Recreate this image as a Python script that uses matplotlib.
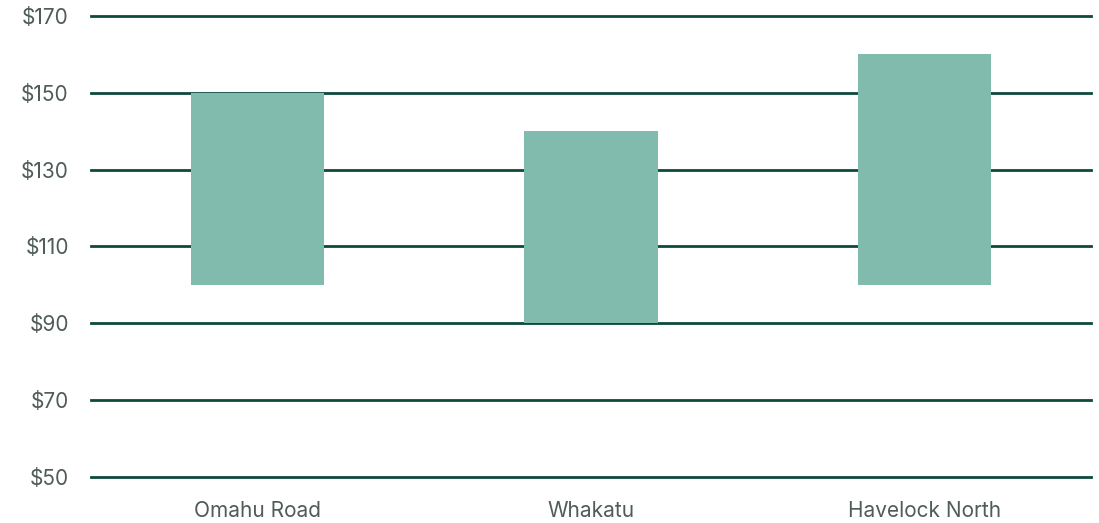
import matplotlib
matplotlib.use("Agg")
from matplotlib import pyplot as plt

categories = ["Omahu Road", "Whakatu", "Havelock North"]
low = [100, 90, 100]
high = [150, 140, 160]
ticks = [50, 70, 90, 110, 130, 150, 170]

plt.rcParams['font.family'] = ['Inter', 'DejaVu Sans']

fig = plt.figure(figsize=(10.99, 5.23), dpi=100)
ax = fig.add_axes([0.0828, 0.088, 0.9099, 0.8814])

x = range(len(categories))
heights = [h - l for h, l in zip(high, low)]
ax.bar(x, heights, bottom=low, width=0.4, color='#80bbad', zorder=2)

ax.set_ylim(50, 170)
ax.set_xlim(-0.5, 2.5)
ax.set_yticks(ticks)
ax.set_yticklabels(['${}'.format(t) for t in ticks])
ax.set_xticks(list(x))
ax.set_xticklabels(categories)

ax.yaxis.grid(True, color='#0d4a3b', linewidth=2, zorder=1)
ax.set_axisbelow(True)
for line in ax.get_ygridlines():
    line.set_clip_on(False)
for s in ax.spines.values():
    s.set_visible(False)
ax.tick_params(axis='both', length=0, labelsize=15, labelcolor='#4f5c5a')
ax.tick_params(axis='y', pad=16)
ax.tick_params(axis='x', pad=17)

fig.savefig('out.png')
